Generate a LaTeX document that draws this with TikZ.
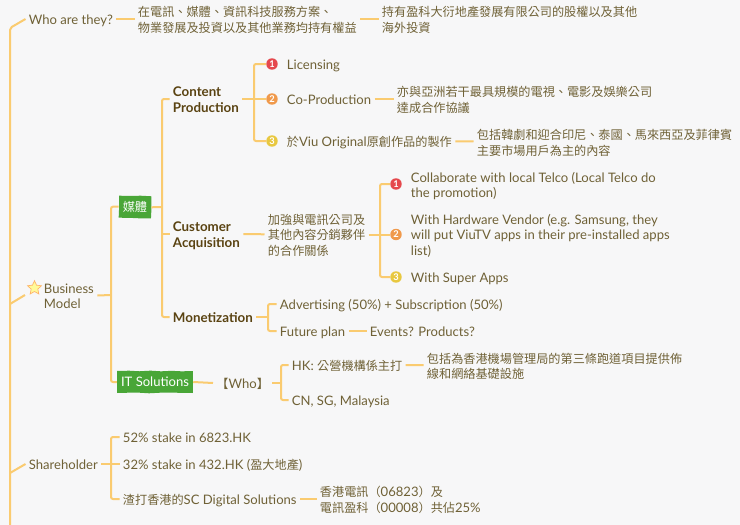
\documentclass[tikz,border=0pt]{standalone}
\usepackage{fontspec}
\setmainfont{Lato}
\newfontfamily\cjkfont[Scale=0.93]{Noto Sans CJK TC}
\newcommand{\zh}[1]{{\cjkfont #1}}
\usetikzlibrary{decorations.pathmorphing,shapes.geometric}
\definecolor{pagegray}{HTML}{F7F7F8}
\definecolor{branchline}{HTML}{FACB70}
\definecolor{leaftext}{HTML}{6F6136}
\definecolor{headtext}{HTML}{5A4312}
\definecolor{taggreen}{HTML}{49A637}
\definecolor{dotred}{HTML}{E5484D}
\definecolor{dotorange}{HTML}{F0994B}
\definecolor{dotyellow}{HTML}{E8C840}

\begin{document}
\begin{tikzpicture}[
    x=0.75pt,
    y=-0.75pt,
    branch/.style={
        draw=branchline,
        line width=1.5pt,
        rounded corners=1.5pt,
        },
    leaf/.style={
        anchor=west,
        align=left,
        inner sep=0pt,
        outer xsep=2.6pt,
        outer ysep=0pt,
        text=leaftext,
        font=\fontsize{9.8}{11.7}\selectfont,
        execute at begin node={\rule{0pt}{10.5pt}},
        execute at end node={\rule[-2.5pt]{0pt}{2.5pt}},
        },
    tall/.style={
        execute at begin node={\rule{0pt}{#1}},
        },
    head/.style={
        leaf,
        text=headtext,
        font=\fontsize{10}{11.7}\selectfont\bfseries,
        },
    tagbox/.style={
        fill=taggreen,
        text=white,
        inner xsep=3pt,
        inner ysep=0pt,
        minimum height=16.5pt,
        font=\fontsize{9.8}{11.7}\selectfont,
        decorate,
        decoration={random steps,segment length=8pt,amplitude=.3pt},
        },
    numdot/.style={
        circle,
        fill=#1,
        text=white,
        inner sep=0pt,
        minimum size=8.6pt,
        font=\fontsize{7}{7}\selectfont\bfseries,
        },
]

\useasboundingbox[fill=pagegray] (0,0) rectangle (740,525);

% trunk
\coordinate (trunktop) at (10,28);
\coordinate (trunkmid) at (10,304);
\coordinate (trunklow) at (10,473);
\coordinate (trunkend) at (10,525);
\coordinate (bmtip) at (25,295);

% first row
\node[leaf] (who) at (25.5,19) {Who are they?};
\node[leaf,tall=22.5pt] (whobiz) at (134.5,19) {\zh{在電訊、媒體、資訊科技服務方案、}\\\zh{物業發展及投資以及其他業務均持有權益}};
\node[leaf,tall=22.5pt] (whohold) at (378.5,19) {\zh{持有盈科大衍地產發展有限公司的股權以及其他}\\\zh{海外投資}};

% business model
\node[star,star points=5,star point ratio=2.1,draw=orange!60,fill=yellow!40,line width=.5pt,inner sep=0pt,minimum size=11pt] (bmstar) at (34.5,288) {};
\node[leaf,tall=22.5pt] (bm) at (40.5,295.5) {Business\\Model};
\node[tagbox,rotate=-1] (media) at (135,207) {\zh{媒體}};
\node[tagbox] (itsol) at (155,382) {IT Solutions};

% content production
\node[head,tall=22.5pt] (content) at (169.5,99) {Content\\Production};
\coordinate (cpfork) at (254,99);
\node[numdot=dotred] (cpa) at (272,64) {1};
\node[numdot=dotorange] (cpb) at (272,99) {2};
\node[numdot=dotyellow] (cpc) at (272,141) {3};
\node[leaf] (licensing) at (283.5,64) {Licensing};
\node[leaf] (coprod) at (283.5,99) {Co-Production};
\node[leaf,tall=22.5pt] (copart) at (393.5,99) {\zh{亦與亞洲若干最具規模的電視、電影及娛樂公司}\\\zh{達成合作協議}};
\node[leaf] (original) at (283.5,141) {\zh{於}Viu Original\zh{原創作品的製作}};
\node[leaf,tall=22.5pt] (origdesc) at (473.5,142) {\zh{包括韓劇和迎合印尼、泰國、馬來西亞及菲律賓}\\\zh{主要市場用戶為主的內容}};

% customer acquisition
\node[head,tall=22.5pt] (customer) at (169.5,234) {Customer\\Acquisition};
\node[leaf,tall=34pt] (channel) at (264.5,234.5) {\zh{加強與電訊公司及}\\\zh{其他內容分銷夥伴}\\\zh{的合作關係}};
\coordinate (cafork) at (380,234.5);
\node[numdot=dotred] (caa) at (396,184) {1};
\node[numdot=dotorange] (cab) at (396,234.5) {2};
\node[numdot=dotyellow] (cac) at (396,277) {3};
\node[leaf,tall=22.5pt] (telco) at (407.5,184.5) {Collaborate with local Telco (Local Telco do\\the promotion)};
\node[leaf,tall=34pt] (vendor) at (407.5,234.5) {With Hardware Vendor (e.g. Samsung, they\\will put ViuTV apps in their pre-installed apps\\list)};
\node[leaf] (superapp) at (407.5,277) {With Super Apps};

% monetization
\node[head] (monet) at (169.5,317) {Monetization};
\coordinate (mofork) at (268,317);
\node[leaf] (advert) at (276.5,304) {Advertising (50\%) + Subscription (50\%)};
\node[leaf] (future) at (276.5,331) {Future plan};
\node[leaf] (events) at (366.5,331) {Events? Products?};

% it solutions
\node[leaf] (whotag) at (213,383) {\zh{【}Who\zh{】}};
\coordinate (itfork) at (281,383);
\node[leaf] (hk) at (288.5,365) {HK: \zh{公營機構係主打}};
\node[leaf,tall=22.5pt] (runway) at (423.5,365.5) {\zh{包括為香港機場管理局的第三條跑道項目提供佈}\\\zh{線和網絡基礎設施}};
\node[leaf] (cnsg) at (288.5,400) {CN, SG, Malaysia};

% shareholder
\node[leaf] (holder) at (25.5,464) {Shareholder};
\coordinate (shfork) at (111,464);
\node[leaf] (stakea) at (119.5,437) {52\% stake in 6823.HK};
\node[leaf] (stakeb) at (119.5,464) {32\% stake in 432.HK (\zh{盈大地產})};
\node[leaf] (scd) at (119.5,499) {\zh{渣打香港的}SC Digital Solutions};
\node[leaf,tall=22.5pt] (pccw) at (316.5,499) {\zh{香港電訊（}06823\zh{）及}\\\zh{電訊盈科（}00008\zh{）共佔}25\%};

\draw[branch] (who.west) -- (trunktop) -- (trunkend);
\draw[branch] (bmtip) -- (trunkmid);
\draw[branch] (holder.west) -- (trunklow);
\draw[branch] (who) -- (whobiz);
\draw[branch] (whobiz) -- (whohold);

\coordinate (bmfork) at (111,295);
\draw[branch] (bm.east) -- (bmfork);
\draw[branch] (media.west) -| (bmfork) |- (itsol.west);

\coordinate (mdfork) at (162,207);
\draw[branch] (media.east) -- (mdfork);
\draw[branch] (content.west) -| (mdfork) |- (monet.west);
\draw[branch] (customer.west) -- (customer.west -| mdfork);

\draw[branch] (content.east) -- (cpb.west);
\draw[branch] (cpa.west) -| (cpfork) |- (cpc.west);
\draw[branch] (coprod) -- (copart);
\draw[branch] (original) -- (origdesc);

\draw[branch] (customer) -- (channel);
\draw[branch] (channel.east) -- (cab.west);
\draw[branch] (caa.west) -| (cafork) |- (cac.west);

\draw[branch] (monet.east) -- (mofork);
\draw[branch] (advert.west) -| (mofork) |- (future.west);
\draw[branch] (future) -- (events);

\draw[branch] (itsol.east) -- (whotag.west);
\draw[branch] (whotag.east) -- (itfork);
\draw[branch] (hk.west) -| (itfork) |- (cnsg.west);
\draw[branch] (hk) -- (runway);

\draw[branch] (holder.east) -- (stakeb.west);
\draw[branch] (stakea.west) -| (shfork) |- (scd.west);
\draw[branch] (scd) -- (pccw);

\end{tikzpicture}
\end{document}
